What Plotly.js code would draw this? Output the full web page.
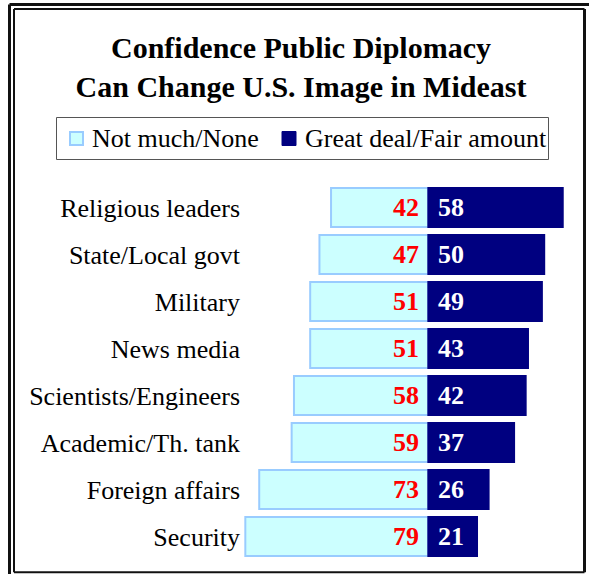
<!DOCTYPE html>
<html>
<head>
<meta charset="utf-8">
<script src="https://cdn.plot.ly/plotly-3.0.1.min.js"></script>
<style>
  html, body { margin: 0; padding: 0; background: #ffffff; }
  #chart { width: 589px; height: 574px; }
</style>
</head>
<body>
<div id="chart"></div>
<script>
// ---- data ----
var categories = ["Religious leaders", "State/Local govt", "Military", "News media",
                  "Scientists/Engineers", "Academic/Th. tank", "Foreign affairs", "Security"];
var notMuch = [42, 47, 51, 51, 58, 59, 73, 79];
var greatDeal = [58, 50, 49, 43, 42, 37, 26, 21];
var seriesNames = ["Not much/None", "Great deal/Fair amount"];
var titleLines = ["Confidence Public Diplomacy", "Can Change U.S. Image in Mideast"];

// ---- layout geometry ----
var W = 589, H = 574;
var M = {l: 243, r: 17, t: 184, b: 14};
var pw = W - M.l - M.r, ph = H - M.t - M.b;
function px(x) { return (x - M.l) / pw; }
function py(y) { return (H - M.b - y) / ph; }

var serif = "Liberation Serif, Times New Roman, serif";
var lightFill = "#CCFFFF", lightLine = "#99CCFF", navy = "#000080";

var traces = [
  {
    type: "bar", orientation: "h", name: seriesNames[0],
    y: categories, x: notMuch.map(function (v) { return -v; }),
    marker: {color: lightFill, line: {color: lightLine, width: 2}},
    hoverinfo: "skip", showlegend: false
  },
  {
    type: "bar", orientation: "h", name: seriesNames[1],
    y: categories, x: greatDeal,
    marker: {color: navy, line: {color: navy, width: 2}},
    hoverinfo: "skip", showlegend: false
  }
];

var annotations = [];
categories.forEach(function (c, i) {
  annotations.push({
    x: 0, y: c, xref: "x", yref: "y", text: "<b>" + notMuch[i] + "</b>",
    showarrow: false, xanchor: "right", xshift: -7,
    font: {family: serif, size: 26, color: "#FF0000"}
  });
  annotations.push({
    x: 0, y: c, xref: "x", yref: "y", text: "<b>" + greatDeal[i] + "</b>",
    showarrow: false, xanchor: "left", xshift: 8,
    font: {family: serif, size: 26, color: "#FFFFFF"}
  });
});

// legend (drawn manually for exact placement)
annotations.push({
  xref: "paper", yref: "paper", x: px(90), y: py(138.5), xanchor: "left", yanchor: "middle",
  text: seriesNames[0], showarrow: false, font: {family: serif, size: 26, color: "#000000"}
});
annotations.push({
  xref: "paper", yref: "paper", x: px(303), y: py(138.5), xanchor: "left", yanchor: "middle",
  text: seriesNames[1], showarrow: false, font: {family: serif, size: 26, color: "#000000"}
});

var shapes = [
  // outer (cropped) border
  {type: "line", xref: "paper", yref: "paper", x0: px(9.5), x1: px(600), y0: py(4.5), y1: py(4.5), line: {color: "#111", width: 3}},
  {type: "line", xref: "paper", yref: "paper", x0: px(9.5), x1: px(9.5), y0: py(4.5), y1: py(590), line: {color: "#111", width: 3}},
  // inner border
  {type: "line", xref: "paper", yref: "paper", x0: px(14), x1: px(584.5), y0: py(9), y1: py(9), line: {color: "#111", width: 2}},
  {type: "line", xref: "paper", yref: "paper", x0: px(14), x1: px(14), y0: py(9), y1: py(572.3), line: {color: "#111", width: 2}},
  {type: "line", xref: "paper", yref: "paper", x0: px(14), x1: px(584.5), y0: py(572.3), y1: py(572.3), line: {color: "#111", width: 2}},
  {type: "line", xref: "paper", yref: "paper", x0: px(584.5), x1: px(584.5), y0: py(9), y1: py(572.3), line: {color: "#111", width: 3}},
  // legend box and swatches
  {type: "rect", xref: "paper", yref: "paper", x0: px(56.5), x1: px(548.5), y0: py(117.5), y1: py(159.5),
   line: {color: "#555555", width: 1}, fillcolor: "rgba(0,0,0,0)"},
  {type: "rect", xref: "paper", yref: "paper", x0: px(70), x1: px(83), y0: py(132), y1: py(145),
   line: {color: lightLine, width: 2}, fillcolor: lightFill},
  {type: "rect", xref: "paper", yref: "paper", x0: px(282), x1: px(296), y0: py(131.5), y1: py(145.5),
   line: {color: navy, width: 1}, fillcolor: navy}
];

var layout = {
  width: W, height: H,
  margin: M,
  paper_bgcolor: "#ffffff", plot_bgcolor: "#ffffff",
  barmode: "relative", bargap: 0.17,
  showlegend: false,
  title: {
    text: "<b>" + titleLines.join("<br>") + "</b>",
    font: {family: serif, size: 30, color: "#000000"},
    xref: "container", x: 301 / W, xanchor: "center",
    yref: "container", y: 1 - 58 / H, yanchor: "top"
  },
  xaxis: {range: [-80, 62], visible: false, fixedrange: true},
  yaxis: {
    autorange: "reversed", showgrid: false, zeroline: false, showline: false,
    ticks: "", ticklabelstandoff: 2,
    tickfont: {family: serif, size: 26, color: "#000000"}, fixedrange: true
  },
  annotations: annotations,
  shapes: shapes
};

Plotly.newPlot("chart", traces, layout, {displayModeBar: false, staticPlot: true});
</script>
</body>
</html>
